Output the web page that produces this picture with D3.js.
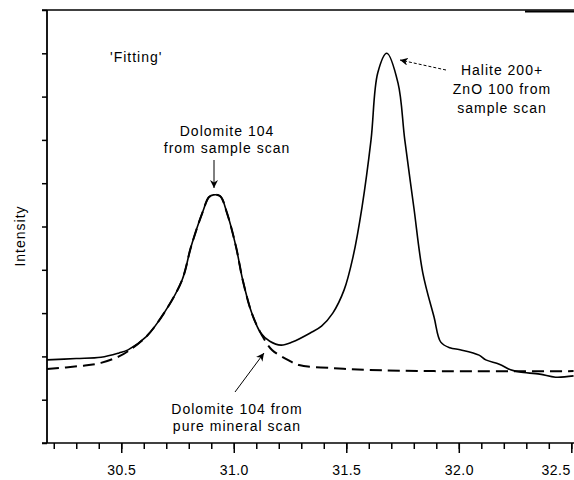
<!DOCTYPE html>
<html>
<head>
<meta charset="utf-8">
<script src="https://cdn.jsdelivr.net/npm/d3@7"></script>
<style>
  body { margin: 0; background: #fff; }
  text { font-family: "Liberation Sans", Arial, sans-serif; fill: #000; }
</style>
</head>
<body>
<script>
// 2-theta (deg) and intensity (arbitrary units)
var sampleTheta = [30.17, 30.30, 30.41, 30.49, 30.53, 30.61, 30.69, 30.77, 30.81, 30.86, 30.89, 30.91, 30.94,
                   30.97, 31.01, 31.04, 31.08, 31.12, 31.16, 31.21, 31.26, 31.34, 31.39, 31.44, 31.49, 31.53,
                   31.57, 31.61, 31.64, 31.68, 31.73, 31.76, 31.80, 31.84, 31.89, 31.92, 31.96, 32.01, 32.09,
                   32.12, 32.18, 32.23, 32.27, 32.36, 32.43, 32.51];
var sampleCounts = [1.92, 1.95, 1.98, 2.08, 2.15, 2.45, 3.0, 3.76, 4.53, 5.31, 5.68, 5.73, 5.70,
                    5.31, 4.53, 3.76, 3.0, 2.54, 2.35, 2.26, 2.33, 2.54, 2.70, 3.0, 3.53, 4.30,
                    5.45, 7.0, 8.55, 9.0, 8.31, 7.0, 5.45, 3.93, 2.91, 2.33, 2.20, 2.15, 2.03,
                    1.92, 1.82, 1.69, 1.64, 1.59, 1.52, 1.55];

var fitTheta = [30.17, 30.32, 30.41, 30.49, 30.53, 30.61, 30.69, 30.77, 30.81, 30.86, 30.89, 30.91, 30.94,
                30.97, 31.01, 31.04, 31.08, 31.125, 31.17, 31.24, 31.29, 31.44, 31.59, 31.89, 32.51];
var fitCounts = [1.71, 1.78, 1.85, 2.0, 2.12, 2.45, 3.0, 3.76, 4.53, 5.31, 5.68, 5.73, 5.70,
                 5.31, 4.53, 3.76, 3.0, 2.49, 2.15, 1.92, 1.80, 1.73, 1.69, 1.66, 1.66];

var xMajorTicks = [30.5, 31.0, 31.5, 32.0, 32.5];

var W = 574, H = 480;
var plotLeft = 47, plotTop = 10, plotRight = 574, plotBottom = 443;

var svg = d3.select("body").append("svg")
    .attr("width", W)
    .attr("height", H);

var x = d3.scaleLinear().domain([30.17, 32.512]).range([plotLeft, plotRight]);
var y = d3.scaleLinear().domain([0, 10]).range([plotBottom, plotTop]);

// minor ticks every 0.1
var xMinor = d3.axisBottom(x)
    .tickValues(d3.range(302, 326).map(function(d){ return d / 10; }))
    .tickSize(6)
    .tickFormat("");
var xMinorG = svg.append("g").attr("transform", "translate(0," + plotBottom + ")").call(xMinor);

var xAxis = d3.axisBottom(x)
    .tickValues(xMajorTicks)
    .tickSize(10)
    .tickPadding(12)
    .tickFormat(d3.format(".1f"));
var xAxisG = svg.append("g").attr("transform", "translate(0," + plotBottom + ")").call(xAxis);
xAxisG.selectAll(".tick text")
    .style("font-size", "14px")
    .style("letter-spacing", "0.5px")
    .style("font-family", "'Liberation Sans', Arial, sans-serif");
// last label sits against the right edge
xAxisG.selectAll(".tick text").filter(function(d){ return d === 32.5; })
    .attr("text-anchor", "end").attr("x", -1);

var yAxis = d3.axisLeft(y).ticks(10).tickSize(5).tickFormat("");
var yAxisG = svg.append("g").attr("transform", "translate(" + plotLeft + ",0)").call(yAxis);

[xMinorG, xAxisG, yAxisG].forEach(function(g){
  g.select(".domain").remove();
  g.selectAll(".tick line").attr("stroke", "#000").attr("stroke-width", 1.5);
});

// frame lines
svg.append("line").attr("x1", 42).attr("x2", plotRight).attr("y1", plotBottom).attr("y2", plotBottom)
    .attr("stroke", "#000").attr("stroke-width", 1.5);
svg.append("line").attr("x1", plotLeft).attr("x2", plotLeft).attr("y1", plotTop).attr("y2", plotBottom)
    .attr("stroke", "#000").attr("stroke-width", 1.8);
svg.append("line").attr("x1", 42).attr("x2", plotRight).attr("y1", plotTop).attr("y2", plotTop)
    .attr("stroke", "#000").attr("stroke-width", 1.5);
svg.append("line").attr("x1", 525).attr("x2", plotRight).attr("y1", plotTop + 1.5).attr("y2", plotTop + 1.5)
    .attr("stroke", "#000").attr("stroke-width", 2);

var line = d3.line()
    .x(function(d){ return x(d[0]); })
    .y(function(d){ return y(d[1]); })
    .curve(d3.curveCatmullRom.alpha(0.5));

svg.append("path")
    .datum(d3.zip(fitTheta, fitCounts))
    .attr("fill", "none")
    .attr("stroke", "#000")
    .attr("stroke-width", 2)
    .attr("stroke-dasharray", "12,6")
    .attr("d", line);

svg.append("path")
    .datum(d3.zip(sampleTheta, sampleCounts))
    .attr("fill", "none")
    .attr("stroke", "#000")
    .attr("stroke-width", 1.6)
    .attr("d", line);

// y label
svg.append("text")
    .attr("transform", "translate(25,236) rotate(-90)")
    .attr("text-anchor", "middle")
    .style("font-size", "14px")
    .style("letter-spacing", "1px")
    .text("Intensity");

// arrows
var defs = svg.append("defs");
defs.append("marker")
    .attr("id", "head")
    .attr("viewBox", "0 0 10 10")
    .attr("refX", 10).attr("refY", 5)
    .attr("markerWidth", 8).attr("markerHeight", 8)
    .attr("markerUnits", "userSpaceOnUse")
    .attr("orient", "auto")
  .append("path")
    .attr("d", "M0,0 L10,5 L0,10 L3,5 Z")
    .attr("fill", "#000");

function label(lines, cx, y0, gap) {
  var t = svg.append("text")
      .attr("text-anchor", "middle")
      .style("font-size", "14px")
      .style("letter-spacing", "1px");
  lines.forEach(function(s, i){
    t.append("tspan").attr("x", cx).attr("y", y0 + i * gap).text(s);
  });
}

svg.append("text")
    .attr("x", 110).attr("y", 62)
    .style("font-size", "14px")
    .style("letter-spacing", "1px")
    .text("'Fitting'");

label(["Dolomite 104", "from sample scan"], 227, 136, 17);
svg.append("line")
    .attr("x1", 214).attr("y1", 160).attr("x2", 214).attr("y2", 188)
    .attr("stroke", "#000").attr("stroke-width", 1)
    .attr("marker-end", "url(#head)");

label(["Halite 200+", "ZnO 100 from", "sample scan"], 502, 75, 19);
svg.append("line")
    .attr("x1", 446).attr("y1", 70).attr("x2", 400).attr("y2", 60)
    .attr("stroke", "#000").attr("stroke-width", 1)
    .attr("stroke-dasharray", "3,2")
    .attr("marker-end", "url(#head)");

label(["Dolomite 104 from", "pure mineral scan"], 237, 414, 17);
svg.append("line")
    .attr("x1", 235).attr("y1", 392).attr("x2", 264).attr("y2", 353)
    .attr("stroke", "#000").attr("stroke-width", 1)
    .attr("marker-end", "url(#head)");
</script>
</body>
</html>
